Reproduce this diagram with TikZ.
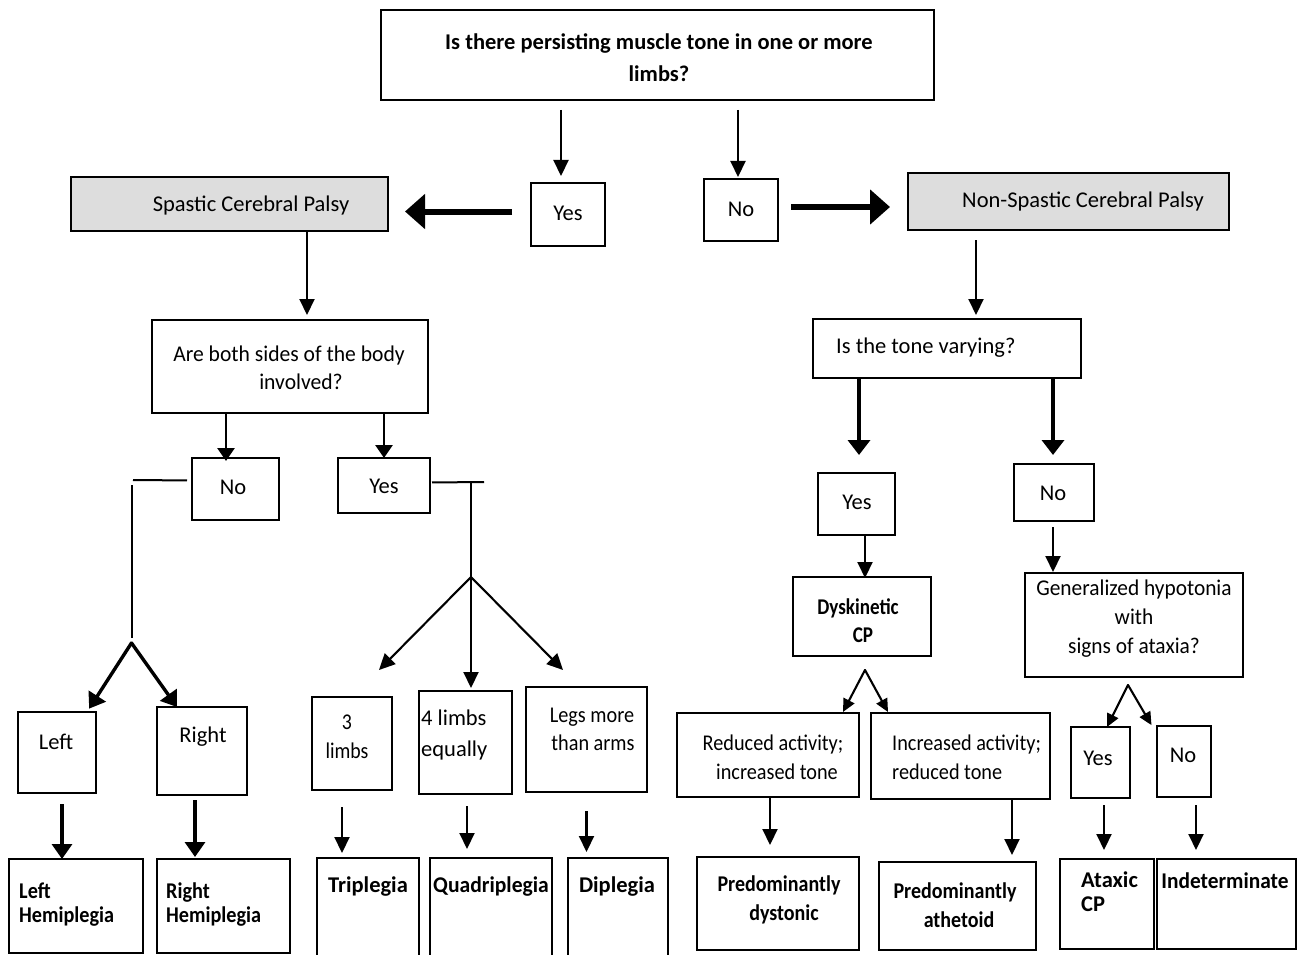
\documentclass[tikz,border=0pt]{standalone}
\usepackage{fontspec}
\setmainfont{Carlito}
\usetikzlibrary{arrows.meta}
\newcommand{\bx}[6][box]{%
  \pgfmathsetmacro\bxw{#5-#3}\pgfmathsetmacro\bxh{#6-#4}%
  \node[#1, minimum width=\bxw pt, minimum height=\bxh pt] (#2) at ({(#3+#5)/2},{(#4+#6)/2}) {};}
\newcommand{\fs}[2]{\fontsize{#1}{#2}\selectfont}
\newcommand{\st}[1]{\addfontfeatures{FakeStretch=#1}}
\begin{document}
\begin{tikzpicture}[x=1pt,y=-1pt,
  box/.style={draw, line width=2.1pt, inner sep=0pt, outer sep=0pt},
  gbox/.style={box, fill={rgb,255:red,221;green,221;blue,221}},
  t/.style={inner sep=0pt, align=center, font=\fs{22.5}{29}},
  tb/.style={inner sep=0pt, align=center, font=\fs{22.5}{29}\bfseries},
  arr/.style={line width=2.1pt, -{Triangle[width=15pt,length=16pt]}},
  arrb/.style={line width=3.4pt, -{Triangle[width=20pt,length=15pt]}},
  arrt/.style={line width=6pt, -{Triangle[width=34pt,length=20pt]}},
  ln/.style={line width=2pt}]
\useasboundingbox (0,0) rectangle (1299,955);
\fill[white] (0,0) rectangle (1299,955);
\clip (0,0) rectangle (1299,955);

% ---------- boxes ----------
\bx{top}{381}{10}{934}{100}
\bx{yes1}{531}{183}{605}{246}
\bx{no1}{704}{179}{778}{241}
\bx[gbox]{sp}{71}{177}{388}{231}
\bx[gbox]{nsp}{908}{173}{1229}{230}
\bx{both}{152}{320}{428}{413}
\bx{no2}{192}{458}{279}{520}
\bx{yes2}{338}{458}{430}{513}
\bx{left}{18}{712}{96}{793}
\bx{right}{157}{707}{247}{795}
\bx{lh}{9}{859}{143}{953}
\bx{rh}{157}{859}{290}{953}
\bx{three}{312}{697}{392}{790}
\bx{four}{419}{691}{512}{794}
\bx{legs}{526}{687}{647}{792}
\bx{tri}{317}{858}{419}{975}
\bx{quad}{430}{858}{552}{975}
\bx{di}{568}{858}{668}{975}
\bx{tone}{813}{319}{1081}{378}
\bx{yes3}{818}{473}{895}{535}
\bx{no3}{1014}{464}{1094}{521}
\bx{dys}{793}{577}{931}{656}
\bx{gen}{1025}{573}{1243}{677}
\bx{red}{677}{713}{859}{797}
\bx{inc}{871}{713}{1050}{799}
\bx{pdys}{697}{857}{859}{950}
\bx{path}{879}{862}{1036}{950}
\bx{yes4}{1071}{727}{1130}{798}
\bx{no4}{1157}{726}{1211}{797}
\bx{atax}{1060}{859}{1154}{949}
\bx{ind}{1157}{859}{1296}{949}

% ---------- texts ----------
\node[tb, font=\fs{22.5}{32}\bfseries] (top-t) at (659,58) {Is there persisting muscle tone in one or more\\limbs?};
\node[t] (yes1-t) at (568,213) {Yes};
\node[t] (no1-t) at (741,209) {No};
\node[t] (sp-t) at (251,206) {Spastic Cerebral Palsy};
\node[t] (nsp-t) at (1083,202) {Non-Spastic Cerebral Palsy};
\node[t, font=\fs{22.5}{28}\st{0.96}] (both-t) at (289,368) {Are both sides of the body\\\hspace*{24pt}involved?};
\node[t] (no2-t) at (233,487) {No};
\node[t] (yes2-t) at (384,486) {Yes};
\node[t] (left-t) at (56,742) {Left};
\node[t] (right-t) at (203,737) {Right};
\node[tb, align=left, anchor=west, font=\fs{22.5}{24}\bfseries\st{0.9}] (lh-t) at (19,905) {Left\\Hemiplegia};
\node[tb, align=left, anchor=west, font=\fs{22.5}{24}\bfseries\st{0.9}] (rh-t) at (166,905) {Right\\Hemiplegia};
\node[t, font=\fs{22.5}{29}\st{0.88}] (three-t) at (347,737) {3\\limbs};
\node[t, align=left, anchor=west, font=\fs{22.5}{31}] (four-t) at (421,735) {4 limbs\\equally};
\node[t, font=\fs{22.5}{28}\st{0.9}] (legs-t) at (592,729) {Legs more\\\hspace*{2pt}than arms};
\node[tb] (tri-t) at (368,887) {Triplegia};
\node[tb, font=\fs{22.5}{29}\bfseries\st{0.96}] (quad-t) at (491,887) {Quadriplegia};
\node[tb] (di-t) at (617,887) {Diplegia};
\node[t, anchor=west] (tone-t) at (836,348) {Is the tone varying?};
\node[t] (yes3-t) at (857,502) {Yes};
\node[t] (no3-t) at (1053,493) {No};
\node[tb, font=\fs{22.5}{28}\bfseries\st{0.85}] (dys-t) at (858,621) {Dyskinetic\\\hspace*{10pt}CP};
\node[t, font=\fs{22.5}{29}\st{0.95}] (gen-t) at (1134,619) {Generalized hypotonia\\with\\signs of ataxia?};
\node[t, font=\fs{22.5}{29}\st{0.9}] (red-t) at (773,757) {Reduced activity;\\\hspace*{8pt}increased tone};
\node[t, align=left, anchor=west, font=\fs{22.5}{29}\st{0.9}] (inc-t) at (892,757) {Increased activity;\\reduced tone};
\node[tb, font=\fs{22.5}{29}\bfseries\st{0.89}] (pdys-t) at (779,900) {Predominantly\\\hspace*{10pt}dystonic};
\node[tb, font=\fs{22.5}{29}\bfseries\st{0.89}] (path-t) at (955,905) {Predominantly\\\hspace*{8pt}athetoid};
\node[t] (yes4-t) at (1098,758) {Yes};
\node[t] (no4-t) at (1183,755) {No};
\node[tb, align=left, anchor=west, font=\fs{22.5}{24}\bfseries] (atax-t) at (1081,892) {Ataxic\\CP};
\node[tb, font=\fs{22.5}{29}\bfseries\st{0.95}] (ind-t) at (1225,881) {Indeterminate};

% ---------- junction coordinates ----------
\coordinate (nh) at (133,480);
\coordinate (nv) at (131.5,485);
\coordinate (napex) at (131.5,643);
\coordinate (yh) at (484,482);
\coordinate (yv) at (471,482);
\coordinate (yapex) at (471,577);
\coordinate (dapex) at (865,670);
\coordinate (gapex) at (1128,685);

% ---------- connectors: top ----------
\draw[arr, shorten <=10pt, shorten >=7pt] ([xshift=-7pt]yes1.north |- top.south) -- ([xshift=-7pt]yes1.north);
\draw[arr, shorten <=10pt, shorten >=2pt] ([xshift=-3pt]no1.north |- top.south) -- ([xshift=-3pt]no1.north);
\draw[arrt, shorten <=19pt, shorten >=17pt] ([yshift=3pt]yes1.west) -- ([yshift=3pt]yes1.west -| sp.east);
\draw[arrt, shorten <=13pt, shorten >=18pt] ([yshift=3pt]no1.east) -- ([yshift=3pt]no1.east -| nsp.west);

% ---------- left branch ----------
\draw[arr, shorten <=1pt, shorten >=5pt] ([xshift=17pt]both.north |- sp.south) -- ([xshift=17pt]both.north);
\draw[arrb, line width=2.8pt, -{Triangle[width=17pt,length=13pt]}] ([xshift=-9.5pt]no2.north |- both.south) -- ([xshift=-9.5pt,yshift=-3pt]no2.north);
\draw[arrb, line width=2.8pt, -{Triangle[width=17pt,length=13pt]}] (yes2.north |- both.south) -- (yes2.north);

\draw[ln, shorten <=5pt] ([yshift=8.5pt]no2.west) -- (nh);
\draw[ln] (nv) -- ([yshift=5pt]napex);
\draw[arrb, line cap=round, shorten >=4pt] (napex) -- ([xshift=30pt]left.north);
\draw[arrb, line cap=round] (napex) -- ([xshift=-25pt]right.north);
\draw[arrb, shorten <=11pt] ([xshift=5pt]left.south) -- ([xshift=5pt]left.south |- lh.north);
\draw[arrb, shorten <=5pt, shorten >=2pt] ([xshift=-7pt]right.south) -- ([xshift=-7pt]right.south |- rh.north);

\draw[ln, shorten <=2pt] ([yshift=3pt]yes2.east) -- (yh);
\draw[ln] (yv) -- (yapex);
\draw[arr] (yapex) -- ([xshift=27pt,yshift=27pt]three.north);
\draw[arr, shorten >=3pt] (yapex) -- ([xshift=5.5pt]four.north);
\draw[arr] (yapex) -- ([xshift=-23.5pt,yshift=17pt]legs.north);
\draw[arr, shorten <=17pt, shorten >=5pt] ([xshift=-10pt]three.south) -- ([xshift=-10pt]three.south |- tri.north);
\draw[arr, shorten <=12pt, shorten >=9pt] ([xshift=1.5pt]four.south) -- ([xshift=1.5pt]four.south |- quad.north);
\draw[arr, shorten <=19pt, shorten >=6pt] (legs.south) -- (legs.south |- di.north);

% ---------- right branch ----------
\draw[arr, shorten <=10pt, shorten >=4pt] ([xshift=-92.5pt]nsp.south) -- ([xshift=-92.5pt]nsp.south |- tone.north);
\draw[arrb, line width=3.6pt, -{Triangle[width=22pt,length=15pt]}, shorten >=18pt] ([xshift=2.5pt]yes3.north |- tone.south) -- ([xshift=2.5pt]yes3.north);
\draw[arrb, line width=3.6pt, -{Triangle[width=22pt,length=15pt]}, shorten >=9pt] ([xshift=-1pt]no3.north |- tone.south) -- ([xshift=-1pt]no3.north);
\draw[arr] ([xshift=3pt]dys.north |- yes3.south) -- ([xshift=3pt,yshift=-1pt]dys.north);
\draw[arr, shorten <=6pt, shorten >=1pt] ([xshift=-81pt]gen.north |- no3.south) -- ([xshift=-81pt]gen.north);

\draw[arr, line cap=round, -{Triangle[width=12pt,length=13pt]}] (dapex) -- ([xshift=75pt,yshift=1pt]red.north);
\draw[arr, line cap=round, -{Triangle[width=12pt,length=13pt]}] (dapex) -- ([xshift=-72.5pt,yshift=1pt]inc.north);
\draw[arr, shorten >=12pt] ([xshift=2pt]red.south) -- ([xshift=2pt]red.south |- pdys.north);
\draw[arr, shorten <=1pt, shorten >=7pt] ([xshift=51.5pt]inc.south) -- ([xshift=51.5pt]inc.south |- path.north);

\draw[arr, line cap=round, -{Triangle[width=12pt,length=13pt]}] (gapex) -- ([xshift=6.5pt]yes4.north);
\draw[arr, line cap=round, -{Triangle[width=12pt,length=13pt]}, shorten >=1pt] (gapex) -- ([xshift=-32pt]no4.north);
\draw[arr, shorten <=7pt, shorten >=9pt] ([xshift=-3pt]atax.north |- yes4.south) -- ([xshift=-3pt]atax.north);
\draw[arr, shorten <=8pt, shorten >=9pt] ([xshift=12pt]no4.south) -- ([xshift=12pt]no4.south |- ind.north);
\end{tikzpicture}
\end{document}
